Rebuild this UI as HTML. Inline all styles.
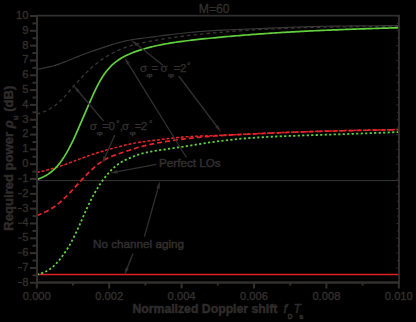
<!DOCTYPE html>
<html><head><meta charset="utf-8"><style>
html,body{margin:0;padding:0;background:#000;}
svg{display:block;}
.ax{stroke:#332f2f;stroke-width:2;}
.tk{stroke:#332f2f;stroke-width:1;}
.tl{font-family:"Liberation Sans",sans-serif;font-size:11.2px;fill:#332f2f;stroke:#332f2f;stroke-width:0.35;}
.ar{stroke:#332f2f;stroke-width:1.3;}
.ah{fill:#332f2f;}
.lab{font-family:"Liberation Sans",sans-serif;font-weight:bold;font-size:12.25px;fill:#2f2b2b;stroke:#2f2b2b;stroke-width:0.5;}
.ann{font-family:"Liberation Sans",sans-serif;font-size:11.7px;fill:#332f2f;stroke:#332f2f;stroke-width:0.45;}
.ann2{font-family:"Liberation Sans",sans-serif;font-size:11.5px;fill:#332f2f;stroke:#332f2f;stroke-width:0.3;}
.c{fill:none;}
</style></head><body>
<svg width="416" height="322" viewBox="0 0 416 322">
<text x="214.2" y="13" class="ann2" style="font-size:12.2px" text-anchor="middle">M=60</text>
<path d="M36.80,69.42 L39.08,69.01 L41.35,68.58 L43.63,68.14 L45.91,67.67 L48.18,67.17 L50.46,66.62 L52.74,66.02 L55.01,65.36 L57.29,64.63 L59.57,63.85 L61.84,63.02 L64.12,62.15 L66.40,61.26 L68.67,60.34 L70.95,59.41 L73.23,58.48 L75.50,57.55 L77.78,56.63 L80.06,55.71 L82.33,54.82 L84.61,53.94 L86.89,53.08 L89.16,52.25 L91.44,51.45 L93.72,50.66 L95.99,49.89 L98.27,49.12 L100.55,48.37 L102.83,47.62 L105.10,46.88 L107.38,46.13 L109.66,45.39 L111.93,44.66 L114.21,43.95 L116.49,43.27 L118.76,42.62 L121.04,42.01 L123.32,41.44 L125.59,40.92 L127.87,40.46 L130.15,40.03 L132.42,39.64 L134.70,39.28 L136.98,38.94 L139.25,38.63 L141.53,38.32 L143.81,38.03 L146.08,37.74 L148.36,37.45 L150.64,37.16 L152.91,36.87 L155.19,36.57 L157.47,36.28 L159.74,35.99 L162.02,35.69 L164.30,35.40 L166.57,35.12 L168.85,34.83 L171.13,34.55 L173.40,34.27 L175.68,34.00 L177.96,33.73 L180.23,33.47 L182.51,33.22 L184.79,32.97 L187.06,32.73 L189.34,32.50 L191.62,32.28 L193.89,32.06 L196.17,31.86 L198.45,31.66 L200.72,31.48 L203.00,31.31 L205.28,31.14 L207.55,30.98 L209.83,30.83 L212.11,30.69 L214.38,30.56 L216.66,30.43 L218.94,30.31 L221.22,30.19 L223.49,30.08 L225.77,29.97 L228.05,29.87 L230.32,29.77 L232.60,29.67 L234.88,29.58 L237.15,29.49 L239.43,29.40 L241.71,29.31 L243.98,29.22 L246.26,29.13 L248.54,29.04 L250.81,28.95 L253.09,28.86 L255.37,28.77 L257.64,28.68 L259.92,28.58 L262.20,28.48 L264.47,28.38 L266.75,28.28 L269.03,28.18 L271.30,28.07 L273.58,27.97 L275.86,27.87 L278.13,27.77 L280.41,27.67 L282.69,27.57 L284.96,27.48 L287.24,27.38 L289.52,27.29 L291.79,27.21 L294.07,27.12 L296.35,27.04 L298.62,26.96 L300.90,26.89 L303.18,26.82 L305.45,26.75 L307.73,26.69 L310.01,26.62 L312.28,26.56 L314.56,26.51 L316.84,26.45 L319.11,26.40 L321.39,26.35 L323.67,26.30 L325.94,26.26 L328.22,26.22 L330.50,26.17 L332.77,26.14 L335.05,26.10 L337.33,26.07 L339.61,26.03 L341.88,26.00 L344.16,25.97 L346.44,25.95 L348.71,25.92 L350.99,25.90 L353.27,25.88 L355.54,25.86 L357.82,25.84 L360.10,25.82 L362.37,25.80 L364.65,25.78 L366.93,25.77 L369.20,25.76 L371.48,25.74 L373.76,25.73 L376.03,25.72 L378.31,25.71 L380.59,25.70 L382.86,25.69 L385.14,25.68 L387.42,25.67 L389.69,25.66 L391.97,25.66 L394.25,25.65 L396.52,25.64 L398.80,25.63" class="c" stroke="#3a3636" stroke-width="1.15"/>
<path d="M36.80,114.21 L39.08,113.44 L41.35,112.63 L43.63,111.76 L45.91,110.80 L48.18,109.71 L50.46,108.46 L52.74,107.05 L55.01,105.45 L57.29,103.64 L59.57,101.62 L61.84,99.43 L64.12,97.08 L66.40,94.60 L68.67,92.02 L70.95,89.39 L73.23,86.75 L75.50,84.14 L77.78,81.59 L80.06,79.11 L82.33,76.70 L84.61,74.36 L86.89,72.09 L89.16,69.89 L91.44,67.79 L93.72,65.80 L95.99,63.91 L98.27,62.14 L100.55,60.47 L102.83,58.91 L105.10,57.43 L107.38,56.03 L109.66,54.70 L111.93,53.45 L114.21,52.27 L116.49,51.15 L118.76,50.10 L121.04,49.12 L123.32,48.21 L125.59,47.37 L127.87,46.60 L130.15,45.88 L132.42,45.22 L134.70,44.61 L136.98,44.03 L139.25,43.50 L141.53,42.99 L143.81,42.51 L146.08,42.05 L148.36,41.60 L150.64,41.17 L152.91,40.75 L155.19,40.34 L157.47,39.94 L159.74,39.55 L162.02,39.18 L164.30,38.82 L166.57,38.46 L168.85,38.12 L171.13,37.79 L173.40,37.46 L175.68,37.15 L177.96,36.84 L180.23,36.54 L182.51,36.25 L184.79,35.97 L187.06,35.70 L189.34,35.43 L191.62,35.17 L193.89,34.91 L196.17,34.66 L198.45,34.42 L200.72,34.18 L203.00,33.94 L205.28,33.72 L207.55,33.49 L209.83,33.27 L212.11,33.06 L214.38,32.85 L216.66,32.65 L218.94,32.45 L221.22,32.25 L223.49,32.06 L225.77,31.88 L228.05,31.70 L230.32,31.52 L232.60,31.35 L234.88,31.18 L237.15,31.01 L239.43,30.85 L241.71,30.69 L243.98,30.54 L246.26,30.39 L248.54,30.25 L250.81,30.10 L253.09,29.96 L255.37,29.83 L257.64,29.70 L259.92,29.57 L262.20,29.44 L264.47,29.32 L266.75,29.20 L269.03,29.08 L271.30,28.97 L273.58,28.86 L275.86,28.75 L278.13,28.65 L280.41,28.55 L282.69,28.45 L284.96,28.36 L287.24,28.27 L289.52,28.18 L291.79,28.09 L294.07,28.01 L296.35,27.93 L298.62,27.86 L300.90,27.78 L303.18,27.71 L305.45,27.64 L307.73,27.58 L310.01,27.52 L312.28,27.45 L314.56,27.40 L316.84,27.34 L319.11,27.29 L321.39,27.24 L323.67,27.19 L325.94,27.14 L328.22,27.10 L330.50,27.05 L332.77,27.01 L335.05,26.97 L337.33,26.94 L339.61,26.90 L341.88,26.87 L344.16,26.83 L346.44,26.80 L348.71,26.77 L350.99,26.75 L353.27,26.72 L355.54,26.70 L357.82,26.67 L360.10,26.65 L362.37,26.63 L364.65,26.61 L366.93,26.59 L369.20,26.57 L371.48,26.55 L373.76,26.53 L376.03,26.51 L378.31,26.50 L380.59,26.48 L382.86,26.47 L385.14,26.45 L387.42,26.44 L389.69,26.43 L391.97,26.41 L394.25,26.40 L396.52,26.39 L398.80,26.37" class="c" stroke="#3a3636" stroke-width="1.3" stroke-dasharray="3.5 3"/>
<line x1="37" y1="180.6" x2="399" y2="180.6" stroke="#3a3636" stroke-width="1"/>
<line x1="37" y1="274.5" x2="399" y2="274.5" stroke="#e02027" stroke-width="1.6"/>
<path d="M36.80,172.54 L39.08,172.00 L41.35,171.46 L43.63,170.91 L45.91,170.35 L48.18,169.76 L50.46,169.15 L52.74,168.51 L55.01,167.83 L57.29,167.12 L59.57,166.37 L61.84,165.60 L64.12,164.80 L66.40,163.98 L68.67,163.15 L70.95,162.30 L73.23,161.45 L75.50,160.60 L77.78,159.74 L80.06,158.89 L82.33,158.05 L84.61,157.22 L86.89,156.39 L89.16,155.58 L91.44,154.79 L93.72,154.02 L95.99,153.27 L98.27,152.54 L100.55,151.84 L102.83,151.16 L105.10,150.49 L107.38,149.84 L109.66,149.20 L111.93,148.58 L114.21,147.97 L116.49,147.36 L118.76,146.76 L121.04,146.17 L123.32,145.61 L125.59,145.06 L127.87,144.53 L130.15,144.03 L132.42,143.57 L134.70,143.13 L136.98,142.73 L139.25,142.36 L141.53,142.01 L143.81,141.69 L146.08,141.38 L148.36,141.08 L150.64,140.80 L152.91,140.51 L155.19,140.23 L157.47,139.94 L159.74,139.65 L162.02,139.35 L164.30,139.06 L166.57,138.77 L168.85,138.49 L171.13,138.21 L173.40,137.95 L175.68,137.70 L177.96,137.47 L180.23,137.26 L182.51,137.06 L184.79,136.89 L187.06,136.73 L189.34,136.59 L191.62,136.47 L193.89,136.35 L196.17,136.25 L198.45,136.15 L200.72,136.06 L203.00,135.98 L205.28,135.90 L207.55,135.81 L209.83,135.73 L212.11,135.64 L214.38,135.55 L216.66,135.46 L218.94,135.36 L221.22,135.27 L223.49,135.17 L225.77,135.06 L228.05,134.96 L230.32,134.86 L232.60,134.75 L234.88,134.65 L237.15,134.54 L239.43,134.43 L241.71,134.33 L243.98,134.22 L246.26,134.12 L248.54,134.01 L250.81,133.91 L253.09,133.80 L255.37,133.70 L257.64,133.60 L259.92,133.49 L262.20,133.39 L264.47,133.29 L266.75,133.19 L269.03,133.09 L271.30,133.00 L273.58,132.90 L275.86,132.81 L278.13,132.71 L280.41,132.62 L282.69,132.53 L284.96,132.44 L287.24,132.35 L289.52,132.27 L291.79,132.18 L294.07,132.10 L296.35,132.02 L298.62,131.94 L300.90,131.86 L303.18,131.78 L305.45,131.71 L307.73,131.63 L310.01,131.56 L312.28,131.49 L314.56,131.41 L316.84,131.35 L319.11,131.28 L321.39,131.21 L323.67,131.14 L325.94,131.08 L328.22,131.02 L330.50,130.96 L332.77,130.90 L335.05,130.84 L337.33,130.78 L339.61,130.72 L341.88,130.66 L344.16,130.61 L346.44,130.56 L348.71,130.50 L350.99,130.45 L353.27,130.40 L355.54,130.35 L357.82,130.30 L360.10,130.26 L362.37,130.21 L364.65,130.16 L366.93,130.12 L369.20,130.07 L371.48,130.03 L373.76,129.98 L376.03,129.94 L378.31,129.90 L380.59,129.85 L382.86,129.81 L385.14,129.77 L387.42,129.73 L389.69,129.69 L391.97,129.64 L394.25,129.60 L396.52,129.56 L398.80,129.52" class="c" stroke="#e8232a" stroke-width="1.5" stroke-dasharray="3 1.8"/>
<path d="M36.80,215.56 L39.08,214.67 L41.35,213.75 L43.63,212.78 L45.91,211.73 L48.18,210.56 L50.46,209.27 L52.74,207.84 L55.01,206.27 L57.29,204.54 L59.57,202.65 L61.84,200.63 L64.12,198.49 L66.40,196.26 L68.67,193.95 L70.95,191.57 L73.23,189.11 L75.50,186.61 L77.78,184.11 L80.06,181.63 L82.33,179.19 L84.61,176.80 L86.89,174.46 L89.16,172.19 L91.44,169.97 L93.72,167.85 L95.99,165.85 L98.27,164.01 L100.55,162.33 L102.83,160.82 L105.10,159.48 L107.38,158.29 L109.66,157.24 L111.93,156.29 L114.21,155.41 L116.49,154.58 L118.76,153.77 L121.04,152.99 L123.32,152.22 L125.59,151.46 L127.87,150.70 L130.15,149.96 L132.42,149.22 L134.70,148.50 L136.98,147.80 L139.25,147.12 L141.53,146.48 L143.81,145.88 L146.08,145.32 L148.36,144.80 L150.64,144.31 L152.91,143.84 L155.19,143.40 L157.47,142.98 L159.74,142.56 L162.02,142.17 L164.30,141.78 L166.57,141.41 L168.85,141.06 L171.13,140.71 L173.40,140.38 L175.68,140.05 L177.96,139.74 L180.23,139.44 L182.51,139.14 L184.79,138.86 L187.06,138.58 L189.34,138.32 L191.62,138.06 L193.89,137.81 L196.17,137.58 L198.45,137.35 L200.72,137.13 L203.00,136.92 L205.28,136.72 L207.55,136.53 L209.83,136.34 L212.11,136.17 L214.38,136.00 L216.66,135.85 L218.94,135.70 L221.22,135.55 L223.49,135.42 L225.77,135.29 L228.05,135.16 L230.32,135.04 L232.60,134.92 L234.88,134.80 L237.15,134.69 L239.43,134.58 L241.71,134.47 L243.98,134.36 L246.26,134.25 L248.54,134.14 L250.81,134.04 L253.09,133.93 L255.37,133.83 L257.64,133.73 L259.92,133.62 L262.20,133.52 L264.47,133.43 L266.75,133.33 L269.03,133.23 L271.30,133.14 L273.58,133.04 L275.86,132.95 L278.13,132.86 L280.41,132.77 L282.69,132.68 L284.96,132.59 L287.24,132.51 L289.52,132.42 L291.79,132.34 L294.07,132.25 L296.35,132.17 L298.62,132.09 L300.90,132.01 L303.18,131.94 L305.45,131.86 L307.73,131.79 L310.01,131.71 L312.28,131.64 L314.56,131.57 L316.84,131.50 L319.11,131.43 L321.39,131.36 L323.67,131.30 L325.94,131.23 L328.22,131.17 L330.50,131.11 L332.77,131.05 L335.05,130.99 L337.33,130.93 L339.61,130.87 L341.88,130.81 L344.16,130.76 L346.44,130.70 L348.71,130.65 L350.99,130.60 L353.27,130.55 L355.54,130.50 L357.82,130.45 L360.10,130.40 L362.37,130.35 L364.65,130.31 L366.93,130.26 L369.20,130.22 L371.48,130.17 L373.76,130.13 L376.03,130.09 L378.31,130.04 L380.59,130.00 L382.86,129.96 L385.14,129.92 L387.42,129.87 L389.69,129.83 L391.97,129.79 L394.25,129.75 L396.52,129.71 L398.80,129.67" class="c" stroke="#e8232a" stroke-width="1.7" stroke-dasharray="5 3"/>
<path d="M36.80,274.68 L39.08,274.03 L41.35,273.32 L43.63,272.48 L45.91,271.47 L48.18,270.23 L50.46,268.74 L52.74,266.96 L55.01,264.87 L57.29,262.46 L59.57,259.74 L61.84,256.79 L64.12,253.65 L66.40,250.28 L68.67,246.66 L70.95,242.73 L73.23,238.46 L75.50,233.85 L77.78,228.95 L80.06,223.85 L82.33,218.65 L84.61,213.47 L86.89,208.42 L89.16,203.60 L91.44,199.03 L93.72,194.73 L95.99,190.70 L98.27,186.95 L100.55,183.45 L102.83,180.18 L105.10,177.14 L107.38,174.34 L109.66,171.79 L111.93,169.46 L114.21,167.36 L116.49,165.48 L118.76,163.81 L121.04,162.34 L123.32,161.03 L125.59,159.86 L127.87,158.80 L130.15,157.83 L132.42,156.91 L134.70,156.03 L136.98,155.20 L139.25,154.42 L141.53,153.72 L143.81,153.09 L146.08,152.54 L148.36,152.06 L150.64,151.63 L152.91,151.24 L155.19,150.88 L157.47,150.52 L159.74,150.18 L162.02,149.83 L164.30,149.50 L166.57,149.16 L168.85,148.83 L171.13,148.49 L173.40,148.15 L175.68,147.82 L177.96,147.47 L180.23,147.12 L182.51,146.77 L184.79,146.41 L187.06,146.04 L189.34,145.67 L191.62,145.30 L193.89,144.93 L196.17,144.56 L198.45,144.19 L200.72,143.83 L203.00,143.47 L205.28,143.11 L207.55,142.76 L209.83,142.43 L212.11,142.10 L214.38,141.78 L216.66,141.47 L218.94,141.17 L221.22,140.88 L223.49,140.60 L225.77,140.33 L228.05,140.07 L230.32,139.81 L232.60,139.57 L234.88,139.34 L237.15,139.12 L239.43,138.90 L241.71,138.70 L243.98,138.50 L246.26,138.32 L248.54,138.14 L250.81,137.97 L253.09,137.81 L255.37,137.65 L257.64,137.50 L259.92,137.36 L262.20,137.23 L264.47,137.10 L266.75,136.97 L269.03,136.85 L271.30,136.74 L273.58,136.63 L275.86,136.52 L278.13,136.42 L280.41,136.32 L282.69,136.22 L284.96,136.13 L287.24,136.04 L289.52,135.95 L291.79,135.86 L294.07,135.78 L296.35,135.70 L298.62,135.61 L300.90,135.53 L303.18,135.46 L305.45,135.38 L307.73,135.30 L310.01,135.23 L312.28,135.16 L314.56,135.08 L316.84,135.01 L319.11,134.94 L321.39,134.87 L323.67,134.79 L325.94,134.72 L328.22,134.65 L330.50,134.58 L332.77,134.50 L335.05,134.43 L337.33,134.36 L339.61,134.28 L341.88,134.20 L344.16,134.13 L346.44,134.05 L348.71,133.97 L350.99,133.89 L353.27,133.80 L355.54,133.72 L357.82,133.64 L360.10,133.55 L362.37,133.47 L364.65,133.38 L366.93,133.30 L369.20,133.21 L371.48,133.12 L373.76,133.03 L376.03,132.95 L378.31,132.86 L380.59,132.77 L382.86,132.68 L385.14,132.59 L387.42,132.50 L389.69,132.41 L391.97,132.31 L394.25,132.22 L396.52,132.13 L398.80,132.04" class="c" stroke="#62d03e" stroke-width="1.8" stroke-dasharray="2.2 2.3"/>
<path d="M36.80,179.66 L39.08,178.72 L41.35,177.73 L43.63,176.66 L45.91,175.47 L48.18,174.11 L50.46,172.53 L52.74,170.71 L55.01,168.60 L57.29,166.16 L59.57,163.40 L61.84,160.32 L64.12,156.90 L66.40,153.17 L68.67,149.11 L70.95,144.74 L73.23,140.07 L75.50,135.11 L77.78,129.95 L80.06,124.67 L82.33,119.37 L84.61,114.11 L86.89,108.89 L89.16,103.69 L91.44,98.52 L93.72,93.44 L95.99,88.58 L98.27,84.06 L100.55,79.93 L102.83,76.24 L105.10,72.97 L107.38,70.08 L109.66,67.51 L111.93,65.22 L114.21,63.19 L116.49,61.38 L118.76,59.76 L121.04,58.30 L123.32,56.99 L125.59,55.79 L127.87,54.71 L130.15,53.71 L132.42,52.78 L134.70,51.92 L136.98,51.11 L139.25,50.34 L141.53,49.62 L143.81,48.94 L146.08,48.29 L148.36,47.68 L150.64,47.09 L152.91,46.54 L155.19,46.01 L157.47,45.50 L159.74,45.02 L162.02,44.57 L164.30,44.13 L166.57,43.72 L168.85,43.33 L171.13,42.95 L173.40,42.59 L175.68,42.25 L177.96,41.93 L180.23,41.61 L182.51,41.31 L184.79,41.02 L187.06,40.74 L189.34,40.47 L191.62,40.20 L193.89,39.95 L196.17,39.69 L198.45,39.44 L200.72,39.20 L203.00,38.95 L205.28,38.72 L207.55,38.48 L209.83,38.25 L212.11,38.02 L214.38,37.80 L216.66,37.57 L218.94,37.36 L221.22,37.14 L223.49,36.93 L225.77,36.72 L228.05,36.52 L230.32,36.32 L232.60,36.12 L234.88,35.92 L237.15,35.73 L239.43,35.54 L241.71,35.35 L243.98,35.17 L246.26,34.99 L248.54,34.81 L250.81,34.63 L253.09,34.46 L255.37,34.29 L257.64,34.12 L259.92,33.96 L262.20,33.79 L264.47,33.63 L266.75,33.48 L269.03,33.32 L271.30,33.17 L273.58,33.02 L275.86,32.87 L278.13,32.73 L280.41,32.59 L282.69,32.45 L284.96,32.31 L287.24,32.18 L289.52,32.04 L291.79,31.92 L294.07,31.79 L296.35,31.66 L298.62,31.54 L300.90,31.42 L303.18,31.31 L305.45,31.19 L307.73,31.08 L310.01,30.97 L312.28,30.86 L314.56,30.75 L316.84,30.64 L319.11,30.54 L321.39,30.44 L323.67,30.34 L325.94,30.24 L328.22,30.15 L330.50,30.05 L332.77,29.96 L335.05,29.87 L337.33,29.78 L339.61,29.69 L341.88,29.60 L344.16,29.52 L346.44,29.43 L348.71,29.35 L350.99,29.26 L353.27,29.18 L355.54,29.10 L357.82,29.02 L360.10,28.95 L362.37,28.87 L364.65,28.79 L366.93,28.72 L369.20,28.64 L371.48,28.57 L373.76,28.49 L376.03,28.42 L378.31,28.35 L380.59,28.27 L382.86,28.20 L385.14,28.13 L387.42,28.06 L389.69,27.99 L391.97,27.92 L394.25,27.85 L396.52,27.78 L398.80,27.71" class="c" stroke="#62d03e" stroke-width="1.7"/>
<path d="M37,15.6 H399 V282.5 H36" class="c" stroke="#332f2f" stroke-width="1.8"/>
<line x1="37" y1="15" x2="37" y2="283.5" class="ax"/>
<line x1="36" y1="282.5" x2="400" y2="282.5" class="ax"/>
<line x1="30" y1="282.76" x2="37" y2="282.76" class="ax"/><line x1="32.5" y1="275.35" x2="37" y2="275.35" class="ax"/><line x1="397" y1="275.35" x2="399" y2="275.35" class="tk"/><line x1="396.5" y1="282.76" x2="399" y2="282.76" class="tk"/><text x="28.5" y="285.66" class="tl" text-anchor="end">8</text><line x1="18" y1="282.56" x2="22" y2="282.56" stroke="#332f2f" stroke-width="1.1"/><line x1="30" y1="267.94" x2="37" y2="267.94" class="ax"/><line x1="32.5" y1="260.53" x2="37" y2="260.53" class="ax"/><line x1="397" y1="260.53" x2="399" y2="260.53" class="tk"/><line x1="396.5" y1="267.94" x2="399" y2="267.94" class="tk"/><text x="28.5" y="270.84" class="tl" text-anchor="end">7</text><line x1="18" y1="267.74" x2="22" y2="267.74" stroke="#332f2f" stroke-width="1.1"/><line x1="30" y1="253.12" x2="37" y2="253.12" class="ax"/><line x1="32.5" y1="245.71" x2="37" y2="245.71" class="ax"/><line x1="397" y1="245.71" x2="399" y2="245.71" class="tk"/><line x1="396.5" y1="253.12" x2="399" y2="253.12" class="tk"/><text x="28.5" y="256.02" class="tl" text-anchor="end">6</text><line x1="18" y1="252.92" x2="22" y2="252.92" stroke="#332f2f" stroke-width="1.1"/><line x1="30" y1="238.30" x2="37" y2="238.30" class="ax"/><line x1="32.5" y1="230.89" x2="37" y2="230.89" class="ax"/><line x1="397" y1="230.89" x2="399" y2="230.89" class="tk"/><line x1="396.5" y1="238.30" x2="399" y2="238.30" class="tk"/><text x="28.5" y="241.20" class="tl" text-anchor="end">5</text><line x1="18" y1="238.10" x2="22" y2="238.10" stroke="#332f2f" stroke-width="1.1"/><line x1="30" y1="223.48" x2="37" y2="223.48" class="ax"/><line x1="32.5" y1="216.07" x2="37" y2="216.07" class="ax"/><line x1="397" y1="216.07" x2="399" y2="216.07" class="tk"/><line x1="396.5" y1="223.48" x2="399" y2="223.48" class="tk"/><text x="28.5" y="226.38" class="tl" text-anchor="end">4</text><line x1="18" y1="223.28" x2="22" y2="223.28" stroke="#332f2f" stroke-width="1.1"/><line x1="30" y1="208.66" x2="37" y2="208.66" class="ax"/><line x1="32.5" y1="201.25" x2="37" y2="201.25" class="ax"/><line x1="397" y1="201.25" x2="399" y2="201.25" class="tk"/><line x1="396.5" y1="208.66" x2="399" y2="208.66" class="tk"/><text x="28.5" y="211.56" class="tl" text-anchor="end">3</text><line x1="18" y1="208.46" x2="22" y2="208.46" stroke="#332f2f" stroke-width="1.1"/><line x1="30" y1="193.84" x2="37" y2="193.84" class="ax"/><line x1="32.5" y1="186.43" x2="37" y2="186.43" class="ax"/><line x1="397" y1="186.43" x2="399" y2="186.43" class="tk"/><line x1="396.5" y1="193.84" x2="399" y2="193.84" class="tk"/><text x="28.5" y="196.74" class="tl" text-anchor="end">2</text><line x1="18" y1="193.64" x2="22" y2="193.64" stroke="#332f2f" stroke-width="1.1"/><line x1="30" y1="179.02" x2="37" y2="179.02" class="ax"/><line x1="32.5" y1="171.61" x2="37" y2="171.61" class="ax"/><line x1="397" y1="171.61" x2="399" y2="171.61" class="tk"/><line x1="396.5" y1="179.02" x2="399" y2="179.02" class="tk"/><text x="28.5" y="181.92" class="tl" text-anchor="end">1</text><line x1="18" y1="178.82" x2="22" y2="178.82" stroke="#332f2f" stroke-width="1.1"/><line x1="30" y1="164.20" x2="37" y2="164.20" class="ax"/><line x1="32.5" y1="156.79" x2="37" y2="156.79" class="ax"/><line x1="397" y1="156.79" x2="399" y2="156.79" class="tk"/><line x1="396.5" y1="164.20" x2="399" y2="164.20" class="tk"/><text x="28.5" y="167.10" class="tl" text-anchor="end">0</text><line x1="30" y1="149.38" x2="37" y2="149.38" class="ax"/><line x1="32.5" y1="141.97" x2="37" y2="141.97" class="ax"/><line x1="397" y1="141.97" x2="399" y2="141.97" class="tk"/><line x1="396.5" y1="149.38" x2="399" y2="149.38" class="tk"/><text x="28.5" y="152.28" class="tl" text-anchor="end">1</text><line x1="30" y1="134.56" x2="37" y2="134.56" class="ax"/><line x1="32.5" y1="127.15" x2="37" y2="127.15" class="ax"/><line x1="397" y1="127.15" x2="399" y2="127.15" class="tk"/><line x1="396.5" y1="134.56" x2="399" y2="134.56" class="tk"/><text x="28.5" y="137.46" class="tl" text-anchor="end">2</text><line x1="30" y1="119.74" x2="37" y2="119.74" class="ax"/><line x1="32.5" y1="112.33" x2="37" y2="112.33" class="ax"/><line x1="397" y1="112.33" x2="399" y2="112.33" class="tk"/><line x1="396.5" y1="119.74" x2="399" y2="119.74" class="tk"/><text x="28.5" y="122.64" class="tl" text-anchor="end">3</text><line x1="30" y1="104.92" x2="37" y2="104.92" class="ax"/><line x1="32.5" y1="97.51" x2="37" y2="97.51" class="ax"/><line x1="397" y1="97.51" x2="399" y2="97.51" class="tk"/><line x1="396.5" y1="104.92" x2="399" y2="104.92" class="tk"/><text x="28.5" y="107.82" class="tl" text-anchor="end">4</text><line x1="30" y1="90.10" x2="37" y2="90.10" class="ax"/><line x1="32.5" y1="82.69" x2="37" y2="82.69" class="ax"/><line x1="397" y1="82.69" x2="399" y2="82.69" class="tk"/><line x1="396.5" y1="90.10" x2="399" y2="90.10" class="tk"/><text x="28.5" y="93.00" class="tl" text-anchor="end">5</text><line x1="30" y1="75.28" x2="37" y2="75.28" class="ax"/><line x1="32.5" y1="67.87" x2="37" y2="67.87" class="ax"/><line x1="397" y1="67.87" x2="399" y2="67.87" class="tk"/><line x1="396.5" y1="75.28" x2="399" y2="75.28" class="tk"/><text x="28.5" y="78.18" class="tl" text-anchor="end">6</text><line x1="30" y1="60.46" x2="37" y2="60.46" class="ax"/><line x1="32.5" y1="53.05" x2="37" y2="53.05" class="ax"/><line x1="397" y1="53.05" x2="399" y2="53.05" class="tk"/><line x1="396.5" y1="60.46" x2="399" y2="60.46" class="tk"/><text x="28.5" y="63.36" class="tl" text-anchor="end">7</text><line x1="30" y1="45.64" x2="37" y2="45.64" class="ax"/><line x1="32.5" y1="38.23" x2="37" y2="38.23" class="ax"/><line x1="397" y1="38.23" x2="399" y2="38.23" class="tk"/><line x1="396.5" y1="45.64" x2="399" y2="45.64" class="tk"/><text x="28.5" y="48.54" class="tl" text-anchor="end">8</text><line x1="30" y1="30.82" x2="37" y2="30.82" class="ax"/><line x1="32.5" y1="23.41" x2="37" y2="23.41" class="ax"/><line x1="397" y1="23.41" x2="399" y2="23.41" class="tk"/><line x1="396.5" y1="30.82" x2="399" y2="30.82" class="tk"/><text x="28.5" y="33.72" class="tl" text-anchor="end">9</text><line x1="30" y1="16.00" x2="37" y2="16.00" class="ax"/><line x1="396.5" y1="16.00" x2="399" y2="16.00" class="tk"/><text x="28.5" y="18.90" class="tl" text-anchor="end">10</text><line x1="36.80" y1="282" x2="36.80" y2="288.5" class="ax"/><text x="36.80" y="300.3" class="tl" text-anchor="middle">0.000</text><line x1="73.00" y1="282" x2="73.00" y2="285.5" class="ax"/><line x1="109.20" y1="282" x2="109.20" y2="288.5" class="ax"/><text x="109.20" y="300.3" class="tl" text-anchor="middle">0.002</text><line x1="145.40" y1="282" x2="145.40" y2="285.5" class="ax"/><line x1="181.60" y1="282" x2="181.60" y2="288.5" class="ax"/><text x="181.60" y="300.3" class="tl" text-anchor="middle">0.004</text><line x1="217.80" y1="282" x2="217.80" y2="285.5" class="ax"/><line x1="254.00" y1="282" x2="254.00" y2="288.5" class="ax"/><text x="254.00" y="300.3" class="tl" text-anchor="middle">0.006</text><line x1="290.20" y1="282" x2="290.20" y2="285.5" class="ax"/><line x1="326.40" y1="282" x2="326.40" y2="288.5" class="ax"/><text x="326.40" y="300.3" class="tl" text-anchor="middle">0.008</text><line x1="362.60" y1="282" x2="362.60" y2="285.5" class="ax"/><line x1="398.80" y1="282" x2="398.80" y2="288.5" class="ax"/><text x="398.80" y="300.3" class="tl" text-anchor="middle">0.010</text>
<line x1="162.9" y1="65.2" x2="137.09" y2="44.84" class="ar"/><polygon points="131.2,40.2 138.14,43.51 136.04,46.18" class="ah"/>
<line x1="178.8" y1="76" x2="216.49" y2="126.01" class="ar"/><polygon points="221,132 215.13,127.03 217.84,124.99" class="ah"/>
<line x1="103.5" y1="121" x2="78.34" y2="91.23" class="ar"/><polygon points="73.5,85.5 79.64,90.13 77.04,92.33" class="ah"/>
<line x1="114.8" y1="135" x2="105.07" y2="156.66" class="ar"/><polygon points="102,163.5 103.52,155.96 106.62,157.35" class="ah"/>
<line x1="186.4" y1="157.5" x2="128.35" y2="63.87" class="ar"/><polygon points="124.4,57.5 129.80,62.98 126.91,64.77" class="ah"/>
<line x1="156.3" y1="164.4" x2="117.57" y2="171.71" class="ar"/><polygon points="110.2,173.1 117.25,170.04 117.89,173.38" class="ah"/>
<line x1="144.4" y1="236.6" x2="157.97" y2="188.42" class="ar"/><polygon points="160,181.2 159.60,188.88 156.33,187.96" class="ah"/>
<line x1="133" y1="253.4" x2="127.25" y2="268.02" class="ar"/><polygon points="124.5,275 125.66,267.40 128.83,268.64" class="ah"/>
<text x="140.0" y="71.80" class="ann2">σ</text><text x="146.2" y="77.00" class="ann2" style="font-size:6px" textLength="6.3" lengthAdjust="spacingAndGlyphs">φ</text><text x="151.6" y="71.80" class="ann2">=</text><text x="160.6" y="71.80" class="ann2">σ</text><text x="167.8" y="77.00" class="ann2" style="font-size:6px" textLength="6.3" lengthAdjust="spacingAndGlyphs">φ</text><text x="173.8" y="71.80" class="ann2">=</text><text x="180.0" y="71.80" class="ann2">2</text><text x="187.0" y="69.40" class="ann2" style="font-size:8.5px">°</text>
<text x="89.8" y="129.60" class="ann2">σ</text><text x="96.6" y="134.80" class="ann2" style="font-size:6px" textLength="6.3" lengthAdjust="spacingAndGlyphs">φ</text><text x="102.2" y="129.60" class="ann2">=</text><text x="108.6" y="129.60" class="ann2">0</text><text x="116.2" y="127.20" class="ann2" style="font-size:8.5px">°</text><text x="119.8" y="129.60" class="ann2">,</text><text x="122.1" y="129.60" class="ann2">σ</text><text x="129.4" y="134.80" class="ann2" style="font-size:6px" textLength="6.3" lengthAdjust="spacingAndGlyphs">φ</text><text x="134.8" y="129.60" class="ann2">=</text><text x="140.8" y="129.60" class="ann2">2</text><text x="149.0" y="127.20" class="ann2" style="font-size:8.5px">°</text>
<text x="159" y="167.2" class="ann">Perfect LOs</text>
<text x="93" y="247.8" class="ann">No channel aging</text>
<text transform="translate(12.6,158.2) rotate(-90) scale(1,0.95)" class="lab" style="font-size:13.1px" text-anchor="middle">Required power <tspan font-style="italic">ρ</tspan><tspan style="font-size:8px" dy="5.5">u</tspan><tspan dy="-5.5"> (dB)</tspan></text>
<text x="132.4" y="313.2" class="lab">Normalized Doppler shift</text><text x="283.4" y="313.2" class="lab" style="font-weight:normal;font-style:italic;font-size:13px">f</text><text x="287.8" y="319.4" class="lab" style="font-size:6.5px">D</text><text x="293.6" y="313.2" class="lab" style="font-weight:normal;font-style:italic">T</text><text x="299.2" y="319.4" class="lab" style="font-size:7.5px">s</text>
</svg>
</body></html>
